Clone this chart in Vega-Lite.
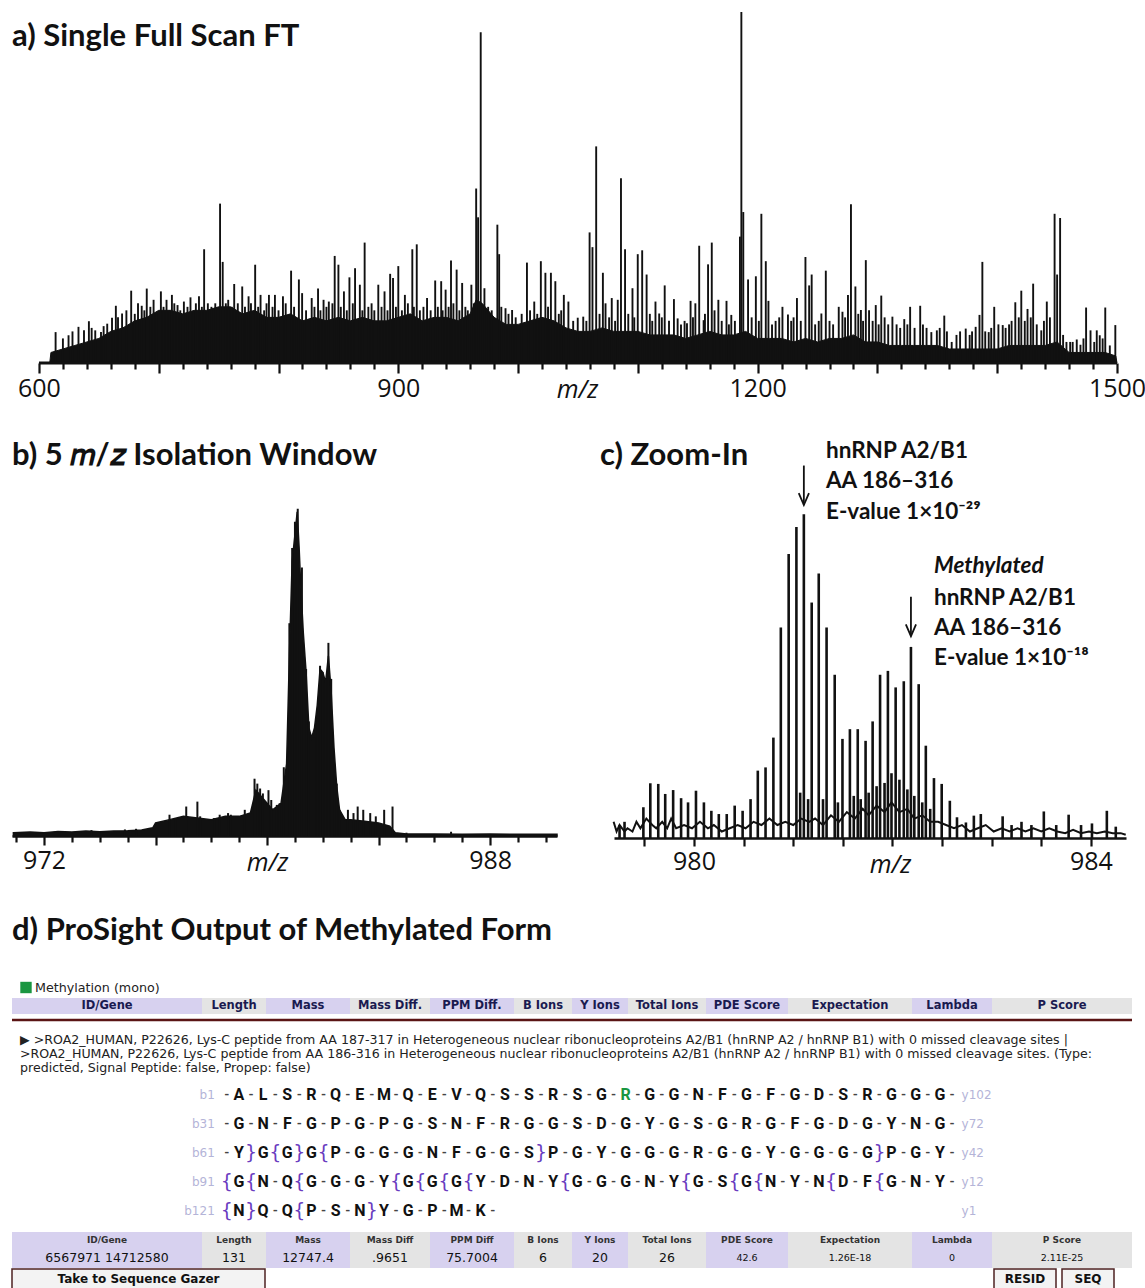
{
"$schema": "https://vega.github.io/schema/vega-lite/v6.json",
"padding": {"left": 10, "top": 0, "right": 0, "bottom": 0},
"background": "white",
"spacing": 38,
"config": {
  "view": {"stroke": null},
  "axis": {"labelFont": "Open Sans", "labelFontSize": 25, "labelColor": "#111", "domainColor": "#111", "domainWidth": 2.5, "tickColor": "#111", "tickWidth": 2.2, "grid": false, "labelPadding": 3, "labelOverlap": false, "labelFlush": false, "titleFont": "Open Sans", "titleFontStyle": "italic", "titleFontWeight": "normal", "titleFontSize": 25, "titleColor": "#111", "titleBaseline": "alphabetic", "titleY": 34},
  "title": {"font": "Lato", "fontSize": 31, "fontWeight": "bold", "color": "#111", "anchor": "start", "frame": "group"}
},
"datasets": {
  "a_axis": [{"mz": 600, "mz2": 1500, "i": 0}],
  "a_floor": [
    {"mz":605,"i":0},{"mz":609,"i":0},{"mz":610,"i":3},{"mz":620,"i":4},{"mz":630,"i":5},{"mz":640,"i":6},{"mz":650,"i":7},{"mz":660,"i":9},{"mz":670,"i":10},{"mz":680,"i":12},{"mz":690,"i":13},{"mz":700,"i":15},{"mz":710,"i":15},{"mz":720,"i":14},{"mz":730,"i":15},{"mz":740,"i":15},{"mz":750,"i":16},{"mz":760,"i":16},{"mz":770,"i":14},{"mz":780,"i":15},{"mz":790,"i":13},{"mz":800,"i":13},{"mz":810,"i":14},{"mz":820,"i":12},{"mz":830,"i":13},{"mz":840,"i":12},{"mz":850,"i":13},{"mz":860,"i":12},{"mz":870,"i":13},{"mz":880,"i":12},{"mz":890,"i":12},{"mz":900,"i":13},{"mz":910,"i":14},{"mz":920,"i":12},{"mz":930,"i":13},{"mz":940,"i":13},{"mz":950,"i":12},{"mz":960,"i":14},{"mz":965,"i":18},{"mz":970,"i":17},{"mz":980,"i":13},{"mz":990,"i":11},{"mz":1000,"i":11},{"mz":1010,"i":12},{"mz":1020,"i":13},{"mz":1030,"i":12},{"mz":1040,"i":10},{"mz":1050,"i":9},{"mz":1060,"i":9},{"mz":1070,"i":10},{"mz":1080,"i":9},{"mz":1090,"i":9},{"mz":1100,"i":9},{"mz":1110,"i":8},{"mz":1120,"i":8},{"mz":1130,"i":8},{"mz":1140,"i":7},{"mz":1150,"i":8},{"mz":1160,"i":9},{"mz":1170,"i":8},{"mz":1180,"i":8},{"mz":1190,"i":9},{"mz":1200,"i":7},{"mz":1210,"i":7},{"mz":1220,"i":7},{"mz":1230,"i":6},{"mz":1240,"i":7},{"mz":1250,"i":6},{"mz":1260,"i":7},{"mz":1270,"i":7},{"mz":1280,"i":8},{"mz":1290,"i":6},{"mz":1300,"i":6},{"mz":1310,"i":5},{"mz":1320,"i":5},{"mz":1330,"i":5},{"mz":1340,"i":5},{"mz":1350,"i":5},{"mz":1360,"i":4},{"mz":1370,"i":4},{"mz":1380,"i":4},{"mz":1390,"i":4},{"mz":1400,"i":4},{"mz":1410,"i":5},{"mz":1420,"i":5},{"mz":1430,"i":5},{"mz":1440,"i":5},{"mz":1450,"i":6},{"mz":1460,"i":3},{"mz":1470,"i":3},{"mz":1480,"i":3},{"mz":1490,"i":3},{"mz":1499,"i":2},{"mz":1500,"i":0}
  ],
  "a_peaks": [
    {"mz":613.9,"i":8.8},{"mz":620,"i":7},{"mz":624.7,"i":7.9},{"mz":628,"i":9},{"mz":633,"i":10.3},{"mz":637.6,"i":9.3},{"mz":641.7,"i":11.9},{"mz":644,"i":10},{"mz":647,"i":9.3},{"mz":651.8,"i":8.8},{"mz":654,"i":10.5},{"mz":657,"i":11.2},{"mz":661,"i":12.9},{"mz":664.2,"i":16.3},{"mz":666,"i":13},{"mz":669.4,"i":14.1},{"mz":673,"i":15},{"mz":677,"i":20.6},{"mz":680,"i":14},{"mz":682.7,"i":17},{"mz":685.8,"i":16.3},{"mz":688,"i":15},{"mz":690,"i":21.2},{"mz":693,"i":16},{"mz":695.7,"i":18},{"mz":698,"i":14},{"mz":701.8,"i":20.4},{"mz":704,"i":16},{"mz":706.5,"i":18},{"mz":709,"i":15},{"mz":711,"i":19.4},{"mz":713,"i":17},{"mz":715.7,"i":16.5},{"mz":718,"i":15},{"mz":721,"i":17.5},{"mz":724,"i":16},{"mz":726.5,"i":18.7},{"mz":729,"i":15},{"mz":731,"i":17},{"mz":733.6,"i":19},{"mz":736,"i":16},{"mz":737.9,"i":32.4},{"mz":741,"i":17},{"mz":744,"i":16},{"mz":747.2,"i":17},{"mz":751.2,"i":45.4},{"mz":753.4,"i":28.8},{"mz":756,"i":17},{"mz":758,"i":18},{"mz":761,"i":16},{"mz":763,"i":22.5},{"mz":766,"i":17},{"mz":769.7,"i":21.8},{"mz":772,"i":16},{"mz":775,"i":19},{"mz":777,"i":17},{"mz":780.5,"i":28},{"mz":783,"i":16},{"mz":785,"i":19.4},{"mz":788,"i":15},{"mz":790,"i":17},{"mz":792,"i":19.4},{"mz":795,"i":16},{"mz":797,"i":19.4},{"mz":800,"i":15},{"mz":803.7,"i":19},{"mz":806,"i":17},{"mz":810.5,"i":26.3},{"mz":813,"i":16},{"mz":817,"i":23.8},{"mz":819.7,"i":19.9},{"mz":823,"i":15},{"mz":827.7,"i":18.5},{"mz":830,"i":16},{"mz":833,"i":21.2},{"mz":835,"i":15},{"mz":837.6,"i":18},{"mz":840,"i":16},{"mz":842,"i":17.5},{"mz":845,"i":17},{"mz":846.9,"i":30.5},{"mz":850,"i":28},{"mz":852,"i":16},{"mz":854.6,"i":20.4},{"mz":857,"i":15},{"mz":859.2,"i":24.4},{"mz":862,"i":17},{"mz":863.9,"i":27},{"mz":867.9,"i":22.3},{"mz":870,"i":15},{"mz":871.9,"i":34.3},{"mz":875,"i":16},{"mz":877.7,"i":17},{"mz":880,"i":15},{"mz":883.3,"i":22.3},{"mz":886,"i":16},{"mz":888.5,"i":20.4},{"mz":891,"i":15},{"mz":893.2,"i":25.4},{"mz":895.6,"i":24.2},{"mz":898,"i":16},{"mz":900,"i":27.6},{"mz":903,"i":15},{"mz":905.5,"i":19.4},{"mz":908,"i":17},{"mz":911.7,"i":32.4},{"mz":913,"i":16},{"mz":915.4,"i":33.8},{"mz":918,"i":15},{"mz":921,"i":16},{"mz":924,"i":18.5},{"mz":927,"i":15},{"mz":930.8,"i":23.5},{"mz":933,"i":16},{"mz":935.8,"i":23.3},{"mz":937,"i":15},{"mz":939.5,"i":20.9},{"mz":942,"i":16},{"mz":944,"i":29.2},{"mz":946,"i":17},{"mz":948.7,"i":26.6},{"mz":951,"i":15},{"mz":953.3,"i":22.8},{"mz":956,"i":16},{"mz":958,"i":15},{"mz":961,"i":22.3},{"mz":963,"i":17},{"mz":965,"i":49.7},{"mz":966.6,"i":41.5},{"mz":968.8,"i":94.2},{"mz":971.9,"i":21.3},{"mz":975,"i":16},{"mz":978,"i":15},{"mz":982.7,"i":39.4},{"mz":984.2,"i":31},{"mz":986,"i":16},{"mz":989.5,"i":15.6},{"mz":992,"i":14},{"mz":995,"i":15.1},{"mz":998,"i":13},{"mz":1003,"i":14},{"mz":1007.4,"i":28.6},{"mz":1010,"i":15},{"mz":1013.5,"i":17.5},{"mz":1016,"i":14},{"mz":1019,"i":29},{"mz":1022.8,"i":25.7},{"mz":1025,"i":16},{"mz":1027.4,"i":25.7},{"mz":1031.1,"i":23.3},{"mz":1034,"i":14},{"mz":1036,"i":15},{"mz":1038.2,"i":19.4},
    {"mz":1042,"i":17.5},{"mz":1046,"i":12},{"mz":1049.8,"i":12.9},{"mz":1054.4,"i":13.2},{"mz":1057,"i":12},{"mz":1059.7,"i":37.2},{"mz":1062.1,"i":33},{"mz":1065.2,"i":61.7},{"mz":1068,"i":14},{"mz":1070.8,"i":25.7},{"mz":1073,"i":17},{"mz":1076,"i":13},{"mz":1078.2,"i":18.5},{"mz":1081,"i":12},{"mz":1083.2,"i":18},{"mz":1085.9,"i":52.6},{"mz":1089.3,"i":32.4},{"mz":1092,"i":14},{"mz":1095.5,"i":21.3},{"mz":1097,"i":13},{"mz":1099.9,"i":31},{"mz":1103.6,"i":32.1},{"mz":1107.3,"i":25.2},{"mz":1110,"i":14},{"mz":1112,"i":12},{"mz":1114.7,"i":17.5},{"mz":1117.8,"i":14.1},{"mz":1120,"i":13},{"mz":1122.4,"i":22.1},{"mz":1126,"i":12},{"mz":1130.1,"i":18.2},{"mz":1133.2,"i":12.7},{"mz":1136,"i":11},{"mz":1139,"i":12},{"mz":1141,"i":11.3},{"mz":1144,"i":17.7},{"mz":1146,"i":13},{"mz":1148,"i":17},{"mz":1151.2,"i":33.4},{"mz":1154.9,"i":12.2},{"mz":1156,"i":14},{"mz":1158.6,"i":28.1},{"mz":1161.7,"i":34.3},{"mz":1164,"i":15},{"mz":1167.2,"i":18},{"mz":1170,"i":12},{"mz":1174,"i":17.7},{"mz":1176,"i":11},{"mz":1178,"i":13.7},{"mz":1181,"i":12},{"mz":1185.2,"i":36},{"mz":1186.4,"i":100},{"mz":1188,"i":43},{"mz":1192,"i":23.8},{"mz":1195,"i":13},{"mz":1198.5,"i":24.7},{"mz":1201,"i":12},{"mz":1203.1,"i":42.5},{"mz":1206.8,"i":29},{"mz":1209,"i":17.7},{"mz":1212,"i":11},{"mz":1215,"i":12},{"mz":1218,"i":13},{"mz":1220.7,"i":16},{"mz":1225.3,"i":13.8},{"mz":1228,"i":12},{"mz":1230,"i":13},{"mz":1232.8,"i":18.5},{"mz":1236,"i":12},{"mz":1239.9,"i":30.2},{"mz":1243,"i":22.1},{"mz":1245.1,"i":25.2},{"mz":1248,"i":11},{"mz":1251,"i":12},{"mz":1253.2,"i":14.1},{"mz":1256.9,"i":26.3},{"mz":1260,"i":12},{"mz":1263,"i":11},{"mz":1267.7,"i":16},{"mz":1270.8,"i":14.6},{"mz":1273,"i":13},{"mz":1275.4,"i":19.4},{"mz":1277.9,"i":45.2},{"mz":1281.6,"i":21.8},{"mz":1284,"i":14},{"mz":1286.2,"i":15.1},{"mz":1288,"i":12},{"mz":1290.3,"i":29.3},{"mz":1293,"i":15},{"mz":1296,"i":12},{"mz":1298.6,"i":16.5},{"mz":1301,"i":11},{"mz":1303.2,"i":19.2},{"mz":1306,"i":13},{"mz":1309,"i":11},{"mz":1312.5,"i":13.2},{"mz":1316,"i":11},{"mz":1319,"i":10},{"mz":1322.4,"i":12.5},{"mz":1325,"i":11},{"mz":1327.3,"i":16},{"mz":1331,"i":10},{"mz":1335.7,"i":16.3},{"mz":1338,"i":11},{"mz":1341,"i":10},{"mz":1345,"i":8.8},{"mz":1349.6,"i":9.3},{"mz":1352,"i":10},{"mz":1355.8,"i":13.5},{"mz":1358,"i":9},{"mz":1362,"i":6},{"mz":1366,"i":8},{"mz":1369,"i":9},{"mz":1373.7,"i":9.8},{"mz":1377,"i":8},{"mz":1379,"i":9},{"mz":1382,"i":10.3},{"mz":1385.2,"i":13.7},{"mz":1387.6,"i":28.8},{"mz":1390,"i":9},{"mz":1392.9,"i":8.8},{"mz":1395,"i":10},{"mz":1397.5,"i":16},{"mz":1401,"i":11},{"mz":1404.6,"i":10.8},{"mz":1407,"i":10},{"mz":1409.9,"i":11},{"mz":1412,"i":12},{"mz":1415.1,"i":17.3},{"mz":1418,"i":13},{"mz":1420.1,"i":20.6},{"mz":1423,"i":12},{"mz":1425.3,"i":15.4},{"mz":1428,"i":13},{"mz":1430,"i":22.6},{"mz":1433,"i":11},{"mz":1436.8,"i":9.3},{"mz":1439,"i":12},{"mz":1441.4,"i":17.5},{"mz":1444,"i":13},{"mz":1447.9,"i":42.5},{"mz":1450,"i":25.2},{"mz":1452.5,"i":41.3},{"mz":1455,"i":8},{"mz":1457.8,"i":6},{"mz":1460.9,"i":6},{"mz":1463,"i":6},{"mz":1466.4,"i":6.7},{"mz":1469.5,"i":5.2},{"mz":1472,"i":7},{"mz":1474.2,"i":15.8},{"mz":1477.9,"i":9.3},{"mz":1481,"i":6},{"mz":1483.1,"i":9.3},{"mz":1485.6,"i":7.9},{"mz":1488,"i":7},{"mz":1490.2,"i":15.8},{"mz":1494,"i":5},{"mz":1498.6,"i":10.8}
  ],
  "b_floor": [
    {"mz":970.9,"i":1},{"mz":971.5,"i":1.2},{"mz":972,"i":1},{"mz":972.5,"i":1.4},{"mz":973,"i":1.2},{"mz":973.5,"i":1.5},{"mz":974,"i":1.3},{"mz":974.5,"i":1.5},{"mz":975,"i":1.6},{"mz":975.5,"i":1.8},{"mz":975.9,"i":2.5},{"mz":976,"i":4},{"mz":976.5,"i":5},{"mz":977,"i":6},{"mz":977.5,"i":5.5},{"mz":978,"i":5},{"mz":978.5,"i":6},{"mz":979,"i":6},{"mz":979.4,"i":7},{"mz":979.6,"i":14},{"mz":979.8,"i":12},{"mz":980,"i":10},{"mz":980.2,"i":8},{"mz":980.5,"i":10},{"mz":980.7,"i":22},{"mz":980.8,"i":55},{"mz":980.9,"i":84},{"mz":981.0,"i":92},{"mz":981.08,"i":99},{"mz":981.15,"i":88},{"mz":981.2,"i":78},{"mz":981.3,"i":62},{"mz":981.4,"i":50},{"mz":981.5,"i":33},{"mz":981.6,"i":30},{"mz":981.7,"i":33},{"mz":981.8,"i":40},{"mz":981.9,"i":51},{"mz":982.0,"i":50},{"mz":982.1,"i":47},{"mz":982.2,"i":55},{"mz":982.3,"i":44},{"mz":982.4,"i":27},{"mz":982.5,"i":15},{"mz":982.6,"i":8},{"mz":982.8,"i":5},{"mz":983,"i":5},{"mz":983.5,"i":4.5},{"mz":984,"i":4},{"mz":984.4,"i":3},{"mz":984.6,"i":1},{"mz":985,"i":0.6},{"mz":986,"i":0.6},{"mz":987,"i":0.5},{"mz":988,"i":0.6},{"mz":989,"i":0.5},{"mz":990.4,"i":0.5}
  ],
  "b_peaks": [
    {"mz":973.7,"i":1.8},{"mz":974.9,"i":2},{"mz":975.3,"i":2.2},{"mz":976.5,"i":6.5},{"mz":976.7,"i":5.5},{"mz":977.1,"i":9},{"mz":977.5,"i":10.5},{"mz":977.6,"i":6},{"mz":978.1,"i":5.5},{"mz":978.3,"i":6.5},{"mz":978.6,"i":7},{"mz":978.7,"i":6.5},{"mz":979.2,"i":8},{"mz":979.55,"i":17.5},{"mz":979.65,"i":16},{"mz":979.75,"i":14.5},{"mz":979.85,"i":13},{"mz":980.05,"i":14},{"mz":980.15,"i":11},{"mz":980.35,"i":9.5},{"mz":980.45,"i":10},{"mz":980.6,"i":21},{"mz":980.8,"i":65},{"mz":980.9,"i":88},{"mz":981.0,"i":96},{"mz":981.1,"i":100},{"mz":981.25,"i":82},{"mz":981.4,"i":51},{"mz":981.5,"i":35},{"mz":981.7,"i":30},{"mz":981.8,"i":36},{"mz":981.9,"i":52},{"mz":982.0,"i":50},{"mz":982.1,"i":48},{"mz":982.2,"i":59},{"mz":982.3,"i":48},{"mz":982.35,"i":28},{"mz":982.5,"i":16},{"mz":982.6,"i":8},{"mz":982.9,"i":8},{"mz":983.1,"i":7},{"mz":983.25,"i":9},{"mz":983.45,"i":8},{"mz":983.7,"i":7},{"mz":983.9,"i":6},{"mz":984.2,"i":8},{"mz":984.5,"i":9},{"mz":985,"i":1},{"mz":986.6,"i":1.3}
  ],
  "c_noise": [
    {"mz":979.19,"i":5},{"mz":979.22,"i":2},{"mz":979.25,"i":4},{"mz":979.3,"i":2},{"mz":979.33,"i":3},{"mz":979.38,"i":2},{"mz":979.42,"i":5},{"mz":979.46,"i":3},{"mz":979.52,"i":6},{"mz":979.58,"i":4},{"mz":979.62,"i":3},{"mz":979.68,"i":5},{"mz":979.73,"i":3},{"mz":979.77,"i":6},{"mz":979.82,"i":3},{"mz":979.9,"i":4},{"mz":979.98,"i":3},{"mz":980.06,"i":5},{"mz":980.14,"i":3},{"mz":980.2,"i":4},{"mz":980.28,"i":2},{"mz":980.36,"i":3},{"mz":980.44,"i":4},{"mz":980.52,"i":3},{"mz":980.6,"i":5},{"mz":980.68,"i":4},{"mz":980.76,"i":6},{"mz":980.84,"i":4},{"mz":980.92,"i":5},{"mz":981.0,"i":4},{"mz":981.08,"i":6},{"mz":981.16,"i":5},{"mz":981.22,"i":6},{"mz":981.3,"i":4},{"mz":981.38,"i":7},{"mz":981.46,"i":5},{"mz":981.54,"i":8},{"mz":981.62,"i":6},{"mz":981.7,"i":9},{"mz":981.76,"i":7},{"mz":981.84,"i":10},{"mz":981.92,"i":8},{"mz":981.99,"i":11},{"mz":982.07,"i":8},{"mz":982.15,"i":9},{"mz":982.22,"i":6},{"mz":982.3,"i":7},{"mz":982.38,"i":5},{"mz":982.46,"i":5},{"mz":982.54,"i":4},{"mz":982.62,"i":3},{"mz":982.7,"i":4},{"mz":982.78,"i":2},{"mz":982.86,"i":3},{"mz":982.94,"i":4},{"mz":983.02,"i":2},{"mz":983.1,"i":3},{"mz":983.18,"i":2},{"mz":983.26,"i":3},{"mz":983.34,"i":2},{"mz":983.42,"i":3},{"mz":983.5,"i":2},{"mz":983.58,"i":3},{"mz":983.66,"i":2},{"mz":983.74,"i":1.5},{"mz":983.82,"i":2.5},{"mz":983.9,"i":1.5},{"mz":983.98,"i":2},{"mz":984.06,"i":1.5},{"mz":984.14,"i":2},{"mz":984.22,"i":1.5},{"mz":984.3,"i":1.5},{"mz":984.35,"i":1}
  ],
  "c_peaks": [
    {"mz":979.25,"i":4},{"mz":979.3,"i":5},{"mz":979.49,"i":9.5},{"mz":979.56,"i":16.9},{"mz":979.64,"i":16.7},{"mz":979.71,"i":13.6},{"mz":979.79,"i":14.8},{"mz":979.87,"i":12.3},{"mz":979.94,"i":11},{"mz":980.02,"i":14.6},{"mz":980.1,"i":11},{"mz":980.175,"i":8.4},{"mz":980.25,"i":7.4},{"mz":980.33,"i":7.4},{"mz":980.41,"i":10},{"mz":980.49,"i":8.4},{"mz":980.57,"i":12},{"mz":980.643,"i":20.8},{"mz":980.721,"i":21.8},{"mz":980.8,"i":31},{"mz":980.875,"i":65},{"mz":980.954,"i":87.7},{"mz":981.032,"i":96},{"mz":981.07,"i":14},{"mz":981.107,"i":100},{"mz":981.15,"i":12},{"mz":981.186,"i":72.7},{"mz":981.257,"i":81.7},{"mz":981.3,"i":12},{"mz":981.336,"i":65},{"mz":981.418,"i":50.4},{"mz":981.45,"i":11},{"mz":981.496,"i":30.6},{"mz":981.571,"i":33.6},{"mz":981.61,"i":13},{"mz":981.65,"i":33.6},{"mz":981.68,"i":12},{"mz":981.729,"i":30},{"mz":981.76,"i":14},{"mz":981.8,"i":36},{"mz":981.84,"i":16},{"mz":981.875,"i":50.4},{"mz":981.92,"i":17},{"mz":981.954,"i":51.6},{"mz":981.99,"i":20},{"mz":982.032,"i":46.5},{"mz":982.07,"i":18},{"mz":982.114,"i":48.4},{"mz":982.15,"i":15},{"mz":982.186,"i":59},{"mz":982.22,"i":13},{"mz":982.264,"i":47.5},{"mz":982.3,"i":11},{"mz":982.336,"i":28.5},{"mz":982.38,"i":9},{"mz":982.418,"i":18.5},{"mz":982.496,"i":16.7},{"mz":982.578,"i":11.5},{"mz":982.65,"i":6.4},{"mz":982.74,"i":4.8},{"mz":982.82,"i":6.9},{"mz":982.89,"i":7.4},{"mz":983.11,"i":6.7},{"mz":983.2,"i":4},{"mz":983.3,"i":5},{"mz":983.4,"i":4},{"mz":983.525,"i":8.2},{"mz":983.65,"i":4},{"mz":983.775,"i":7.2},{"mz":983.9,"i":4},{"mz":984.01,"i":4.5},{"mz":984.16,"i":8.4},{"mz":984.25,"i":3.5}
  ],
  "c_arrows": [{"mz":981.107,"i":115,"i2":102.8},{"mz":982.186,"i":74.5,"i2":62.3}],
  "c_notes": [
    {"mz":981.33,"i":119.4,"t":"hnRNP A2/B1","it":0},
    {"mz":981.33,"i":110.2,"t":"AA 186–316","it":0},
    {"mz":981.33,"i":100.6,"t":"E-value 1×10⁻²⁹","it":0},
    {"mz":982.418,"i":84.0,"t":"Methylated","it":1},
    {"mz":982.418,"i":74.1,"t":"hnRNP A2/B1","it":0},
    {"mz":982.418,"i":64.8,"t":"AA 186–316","it":0},
    {"mz":982.418,"i":55.6,"t":"E-value 1×10⁻¹⁸","it":0}
  ],
  "legend": [{"m":"Methylation (mono)"}],
  "hdr": [{"c":"ID/Gene"},{"c":"Length"},{"c":"Mass"},{"c":"Mass Diff."},{"c":"PPM Diff."},{"c":"B Ions"},{"c":"Y Ions"},{"c":"Total Ions"},{"c":"PDE Score"},{"c":"Expectation"},{"c":"Lambda"},{"c":"P Score"}],
  "desc": [
    {"n":1,"t":"▶  >ROA2_HUMAN, P22626, Lys-C peptide from AA 187-317 in Heterogeneous nuclear ribonucleoproteins A2/B1 (hnRNP A2 / hnRNP B1) with 0 missed cleavage sites |"},
    {"n":2,"t":">ROA2_HUMAN, P22626, Lys-C peptide from AA 186-316 in Heterogeneous nuclear ribonucleoproteins A2/B1 (hnRNP A2 / hnRNP B1) with 0 missed cleavage sites. (Type:"},
    {"n":3,"t":"predicted, Signal Peptide: false, Propep: false)"}
  ],
  "seqlab": [
    {"r":1,"b":"b1","y":"y102","l":"-"},{"r":2,"b":"b31","y":"y72","l":"-"},{"r":3,"b":"b61","y":"y42","l":"-"},{"r":4,"b":"b91","y":"y12","l":"{"},{"r":5,"b":"b121","y":"y1","l":"{"}
  ],
  "seq": [
    {"r":1,"p":1,"a":"A","s":"-"},{"r":1,"p":2,"a":"L","s":"-"},{"r":1,"p":3,"a":"S","s":"-"},{"r":1,"p":4,"a":"R","s":"-"},{"r":1,"p":5,"a":"Q","s":"-"},{"r":1,"p":6,"a":"E","s":"-"},{"r":1,"p":7,"a":"M","s":"-"},{"r":1,"p":8,"a":"Q","s":"-"},{"r":1,"p":9,"a":"E","s":"-"},{"r":1,"p":10,"a":"V","s":"-"},{"r":1,"p":11,"a":"Q","s":"-"},{"r":1,"p":12,"a":"S","s":"-"},{"r":1,"p":13,"a":"S","s":"-"},{"r":1,"p":14,"a":"R","s":"-"},{"r":1,"p":15,"a":"S","s":"-"},{"r":1,"p":16,"a":"G","s":"-"},{"r":1,"p":17,"a":"R","s":"-","m":1},{"r":1,"p":18,"a":"G","s":"-"},{"r":1,"p":19,"a":"G","s":"-"},{"r":1,"p":20,"a":"N","s":"-"},{"r":1,"p":21,"a":"F","s":"-"},{"r":1,"p":22,"a":"G","s":"-"},{"r":1,"p":23,"a":"F","s":"-"},{"r":1,"p":24,"a":"G","s":"-"},{"r":1,"p":25,"a":"D","s":"-"},{"r":1,"p":26,"a":"S","s":"-"},{"r":1,"p":27,"a":"R","s":"-"},{"r":1,"p":28,"a":"G","s":"-"},{"r":1,"p":29,"a":"G","s":"-"},{"r":1,"p":30,"a":"G","s":"-"},
    {"r":2,"p":1,"a":"G","s":"-"},{"r":2,"p":2,"a":"N","s":"-"},{"r":2,"p":3,"a":"F","s":"-"},{"r":2,"p":4,"a":"G","s":"-"},{"r":2,"p":5,"a":"P","s":"-"},{"r":2,"p":6,"a":"G","s":"-"},{"r":2,"p":7,"a":"P","s":"-"},{"r":2,"p":8,"a":"G","s":"-"},{"r":2,"p":9,"a":"S","s":"-"},{"r":2,"p":10,"a":"N","s":"-"},{"r":2,"p":11,"a":"F","s":"-"},{"r":2,"p":12,"a":"R","s":"-"},{"r":2,"p":13,"a":"G","s":"-"},{"r":2,"p":14,"a":"G","s":"-"},{"r":2,"p":15,"a":"S","s":"-"},{"r":2,"p":16,"a":"D","s":"-"},{"r":2,"p":17,"a":"G","s":"-"},{"r":2,"p":18,"a":"Y","s":"-"},{"r":2,"p":19,"a":"G","s":"-"},{"r":2,"p":20,"a":"S","s":"-"},{"r":2,"p":21,"a":"G","s":"-"},{"r":2,"p":22,"a":"R","s":"-"},{"r":2,"p":23,"a":"G","s":"-"},{"r":2,"p":24,"a":"F","s":"-"},{"r":2,"p":25,"a":"G","s":"-"},{"r":2,"p":26,"a":"D","s":"-"},{"r":2,"p":27,"a":"G","s":"-"},{"r":2,"p":28,"a":"Y","s":"-"},{"r":2,"p":29,"a":"N","s":"-"},{"r":2,"p":30,"a":"G","s":"-"},
    {"r":3,"p":1,"a":"Y","s":"}"},{"r":3,"p":2,"a":"G","s":"{"},{"r":3,"p":3,"a":"G","s":"}"},{"r":3,"p":4,"a":"G","s":"{"},{"r":3,"p":5,"a":"P","s":"-"},{"r":3,"p":6,"a":"G","s":"-"},{"r":3,"p":7,"a":"G","s":"-"},{"r":3,"p":8,"a":"G","s":"-"},{"r":3,"p":9,"a":"N","s":"-"},{"r":3,"p":10,"a":"F","s":"-"},{"r":3,"p":11,"a":"G","s":"-"},{"r":3,"p":12,"a":"G","s":"-"},{"r":3,"p":13,"a":"S","s":"}"},{"r":3,"p":14,"a":"P","s":"-"},{"r":3,"p":15,"a":"G","s":"-"},{"r":3,"p":16,"a":"Y","s":"-"},{"r":3,"p":17,"a":"G","s":"-"},{"r":3,"p":18,"a":"G","s":"-"},{"r":3,"p":19,"a":"G","s":"-"},{"r":3,"p":20,"a":"R","s":"-"},{"r":3,"p":21,"a":"G","s":"-"},{"r":3,"p":22,"a":"G","s":"-"},{"r":3,"p":23,"a":"Y","s":"-"},{"r":3,"p":24,"a":"G","s":"-"},{"r":3,"p":25,"a":"G","s":"-"},{"r":3,"p":26,"a":"G","s":"-"},{"r":3,"p":27,"a":"G","s":"}"},{"r":3,"p":28,"a":"P","s":"-"},{"r":3,"p":29,"a":"G","s":"-"},{"r":3,"p":30,"a":"Y","s":"-"},
    {"r":4,"p":1,"a":"G","s":"{"},{"r":4,"p":2,"a":"N","s":"-"},{"r":4,"p":3,"a":"Q","s":"{"},{"r":4,"p":4,"a":"G","s":"-"},{"r":4,"p":5,"a":"G","s":"-"},{"r":4,"p":6,"a":"G","s":"-"},{"r":4,"p":7,"a":"Y","s":"{"},{"r":4,"p":8,"a":"G","s":"{"},{"r":4,"p":9,"a":"G","s":"{"},{"r":4,"p":10,"a":"G","s":"{"},{"r":4,"p":11,"a":"Y","s":"-"},{"r":4,"p":12,"a":"D","s":"-"},{"r":4,"p":13,"a":"N","s":"-"},{"r":4,"p":14,"a":"Y","s":"{"},{"r":4,"p":15,"a":"G","s":"-"},{"r":4,"p":16,"a":"G","s":"-"},{"r":4,"p":17,"a":"G","s":"-"},{"r":4,"p":18,"a":"N","s":"-"},{"r":4,"p":19,"a":"Y","s":"{"},{"r":4,"p":20,"a":"G","s":"-"},{"r":4,"p":21,"a":"S","s":"{"},{"r":4,"p":22,"a":"G","s":"{"},{"r":4,"p":23,"a":"N","s":"-"},{"r":4,"p":24,"a":"Y","s":"-"},{"r":4,"p":25,"a":"N","s":"{"},{"r":4,"p":26,"a":"D","s":"-"},{"r":4,"p":27,"a":"F","s":"{"},{"r":4,"p":28,"a":"G","s":"-"},{"r":4,"p":29,"a":"N","s":"-"},{"r":4,"p":30,"a":"Y","s":"-"},
    {"r":5,"p":1,"a":"N","s":"}"},{"r":5,"p":2,"a":"Q","s":"-"},{"r":5,"p":3,"a":"Q","s":"{"},{"r":5,"p":4,"a":"P","s":"-"},{"r":5,"p":5,"a":"S","s":"-"},{"r":5,"p":6,"a":"N","s":"}"},{"r":5,"p":7,"a":"Y","s":"-"},{"r":5,"p":8,"a":"G","s":"-"},{"r":5,"p":9,"a":"P","s":"-"},{"r":5,"p":10,"a":"M","s":"-"},{"r":5,"p":11,"a":"K","s":"-"}
  ],
  "tbl": [
    {"c":"ID/Gene","r":"h","t":"ID/Gene"},{"c":"ID/Gene","r":"v","t":"6567971      14712580"},
    {"c":"Length","r":"h","t":"Length"},{"c":"Length","r":"v","t":"131"},
    {"c":"Mass","r":"h","t":"Mass"},{"c":"Mass","r":"v","t":"12747.4"},
    {"c":"Mass Diff","r":"h","t":"Mass Diff"},{"c":"Mass Diff","r":"v","t":".9651"},
    {"c":"PPM Diff","r":"h","t":"PPM Diff"},{"c":"PPM Diff","r":"v","t":"75.7004"},
    {"c":"B Ions","r":"h","t":"B Ions"},{"c":"B Ions","r":"v","t":"6"},
    {"c":"Y Ions","r":"h","t":"Y Ions"},{"c":"Y Ions","r":"v","t":"20"},
    {"c":"Total Ions","r":"h","t":"Total Ions"},{"c":"Total Ions","r":"v","t":"26"},
    {"c":"PDE Score","r":"h","t":"PDE Score"},{"c":"PDE Score","r":"v","t":"42.6"},
    {"c":"Expectation","r":"h","t":"Expectation"},{"c":"Expectation","r":"v","t":"1.26E-18"},
    {"c":"Lambda","r":"h","t":"Lambda"},{"c":"Lambda","r":"v","t":"0"},
    {"c":"P Score","r":"h","t":"P Score"},{"c":"P Score","r":"v","t":"2.11E-25"}
  ],
  "btn": [{"b":"Take to Sequence Gazer"},{"b":"RESID"},{"b":"SEQ"}]
},
"vconcat": [
  {
    "width": 1105, "height": 363,
    "title": {"text": "a) Single Full Scan FT", "offset": -77, "baseline": "alphabetic"},
    "encoding": {
      "x": {"field": "mz", "type": "quantitative", "scale": {"domain": [577.5, 1500], "nice": false, "zero": false},
        "axis": {"values": [600,620,640,660,680,700,720,740,760,780,800,820,840,860,880,900,920,940,960,980,1000,1020,1040,1060,1080,1100,1120,1140,1160,1180,1200,1220,1240,1260,1280,1300,1320,1340,1360,1380,1400,1420,1440,1460,1480,1500], "format": "d", "labelExpr": "datum.value % 300 === 0 ? datum.label : ''", "domain": false, "tickSize": {"condition": {"test": "datum.value % 100 === 0", "value": 10}, "value": 6}, "title": "m/z", "titleX": 565}},
      "y": {"field": "i", "type": "quantitative", "scale": {"domain": [0, 103.4], "nice": false}, "axis": null}
    },
    "layer": [
      {"data": {"name": "a_floor"}, "mark": {"type": "area", "color": "#111", "stroke": "#111", "strokeWidth": 1}},
      {"data": {"name": "a_peaks"}, "mark": {"type": "rule", "color": "#111", "strokeWidth": 1.9}, "encoding": {"y2": {"datum": 0}}},
      {"data": {"name": "a_axis"}, "mark": {"type": "rule", "color": "#111", "strokeWidth": 3}, "encoding": {"x2": {"field": "mz2"}}}
    ]
  },
  {
    "hconcat": [
      {
        "width": 545, "height": 329,
        "title": {"text": "b) 5 𝑚/𝑧 Isolation Window", "offset": 11, "baseline": "alphabetic"},
        "encoding": {
          "x": {"field": "mz", "type": "quantitative", "scale": {"domain": [970.85, 990.4], "nice": false, "zero": false},
            "axis": {"values": [971,972,973,974,975,976,977,978,979,980,981,982,983,984,985,986,987,988,989,990], "format": "d", "labelExpr": "(datum.value === 972 || datum.value === 988) ? datum.label : ''", "tickSize": {"condition": {"test": "datum.value % 4 === 0", "value": 9}, "value": 6}, "title": "m/z", "titleX": 255}},
          "y": {"field": "i", "type": "quantitative", "scale": {"domain": [0, 100.5], "nice": false}, "axis": null}
        },
        "layer": [
          {"data": {"name": "b_floor"}, "mark": {"type": "area", "color": "#111", "stroke": "#111", "strokeWidth": 1.5}},
          {"data": {"name": "b_peaks"}, "mark": {"type": "rule", "color": "#111", "strokeWidth": 2}, "encoding": {"y2": {"datum": 0}}}
        ]
      },
      {
        "width": 512, "height": 331,
        "title": {"text": "c) Zoom-In", "offset": -56, "baseline": "alphabetic", "dx": -14},
        "encoding": {
          "x": {"field": "mz", "type": "quantitative", "scale": {"domain": [979.194, 984.353], "nice": false, "zero": false},
            "axis": {"values": [979.5,980,980.5,981,981.5,982,982.5,983,983.5,984], "labelExpr": "abs(datum.value - 980) < 0.01 ? '980' : (abs(datum.value - 984) < 0.01 ? '984' : '')", "tickSize": 8, "title": "m/z", "titleX": 276}},
          "y": {"field": "i", "type": "quantitative", "scale": {"domain": [0, 102.2], "nice": false}, "axis": null}
        },
        "layer": [
          {"data": {"name": "c_noise"}, "mark": {"type": "line", "color": "#111", "strokeWidth": 2}},
          {"data": {"name": "c_peaks"}, "mark": {"type": "rule", "color": "#111", "strokeWidth": 2.6}, "encoding": {"y2": {"datum": 0}}},
          {"data": {"name": "c_arrows"}, "mark": {"type": "rule", "color": "#111", "strokeWidth": 1.8}, "encoding": {"y2": {"field": "i2"}}},
          {"data": {"name": "c_arrows"}, "mark": {"type": "point", "shape": "M-0.6,-1.4L0,0L0.6,-1.4", "filled": false, "size": 290, "color": "#111", "strokeWidth": 1.8, "opacity": 1}, "encoding": {"y": {"field": "i2", "type": "quantitative"}}},
          {"data": {"name": "c_notes"}, "transform": [{"filter": "datum.it === 0"}], "mark": {"type": "text", "align": "left", "baseline": "middle", "font": "Lato", "fontWeight": "bold", "fontSize": 22.5, "color": "#111"}, "encoding": {"text": {"field": "t"}}},
          {"data": {"name": "c_notes"}, "transform": [{"filter": "datum.it === 1"}], "mark": {"type": "text", "align": "left", "baseline": "middle", "font": "Lato", "fontWeight": "bold", "fontStyle": "italic", "fontSize": 22.5, "color": "#111"}, "encoding": {"text": {"field": "t"}}}
        ]
      }
    ],
    "spacing": 57,
    "bounds": "flush"
  },
  {
    "spacing": 0,
    "vconcat": [
      {
        "width": 1120, "height": 17,
        "title": {"text": "d) ProSight Output of Methylated Form", "offset": 10, "baseline": "alphabetic"},
        "data": {"name": "legend"},
        "encoding": {"x": {"datum": 0, "type": "quantitative", "scale": {"domain": [0, 1]}, "axis": null}},
        "layer": [
          {"mark": {"type": "point", "shape": "square", "filled": true, "size": 130, "color": "#1a9641", "xOffset": 14, "yOffset": -2, "opacity": 1}},
          {"mark": {"type": "text", "align": "left", "dx": 23, "dy": -2, "font": "DejaVu Sans", "fontSize": 12.7, "color": "#222"}, "encoding": {"text": {"field": "m"}}}
        ]
      },
      {
        "spacing": 0,
        "hconcat": [
          {"width": 190, "height": 16, "view": {"fill": "#d7d1ef", "stroke": null}, "data": {"name": "hdr"}, "transform": [{"filter": "datum.c === 'ID/Gene'"}], "mark": {"type": "text", "font": "DejaVu Sans", "fontSize": 11.5, "fontWeight": "bold", "color": "#1a1a50"}, "encoding": {"text": {"field": "c"}}},
          {"width": 64, "height": 16, "view": {"fill": "#e4e4e4", "stroke": null}, "data": {"name": "hdr"}, "transform": [{"filter": "datum.c === 'Length'"}], "mark": {"type": "text", "font": "DejaVu Sans", "fontSize": 11.5, "fontWeight": "bold", "color": "#1a1a50"}, "encoding": {"text": {"field": "c"}}},
          {"width": 84, "height": 16, "view": {"fill": "#d7d1ef", "stroke": null}, "data": {"name": "hdr"}, "transform": [{"filter": "datum.c === 'Mass'"}], "mark": {"type": "text", "font": "DejaVu Sans", "fontSize": 11.5, "fontWeight": "bold", "color": "#1a1a50"}, "encoding": {"text": {"field": "c"}}},
          {"width": 80, "height": 16, "view": {"fill": "#e4e4e4", "stroke": null}, "data": {"name": "hdr"}, "transform": [{"filter": "datum.c === 'Mass Diff.'"}], "mark": {"type": "text", "font": "DejaVu Sans", "fontSize": 11.5, "fontWeight": "bold", "color": "#1a1a50"}, "encoding": {"text": {"field": "c"}}},
          {"width": 84, "height": 16, "view": {"fill": "#d7d1ef", "stroke": null}, "data": {"name": "hdr"}, "transform": [{"filter": "datum.c === 'PPM Diff.'"}], "mark": {"type": "text", "font": "DejaVu Sans", "fontSize": 11.5, "fontWeight": "bold", "color": "#1a1a50"}, "encoding": {"text": {"field": "c"}}},
          {"width": 58, "height": 16, "view": {"fill": "#e4e4e4", "stroke": null}, "data": {"name": "hdr"}, "transform": [{"filter": "datum.c === 'B Ions'"}], "mark": {"type": "text", "font": "DejaVu Sans", "fontSize": 11.5, "fontWeight": "bold", "color": "#1a1a50"}, "encoding": {"text": {"field": "c"}}},
          {"width": 56, "height": 16, "view": {"fill": "#d7d1ef", "stroke": null}, "data": {"name": "hdr"}, "transform": [{"filter": "datum.c === 'Y Ions'"}], "mark": {"type": "text", "font": "DejaVu Sans", "fontSize": 11.5, "fontWeight": "bold", "color": "#1a1a50"}, "encoding": {"text": {"field": "c"}}},
          {"width": 78, "height": 16, "view": {"fill": "#e4e4e4", "stroke": null}, "data": {"name": "hdr"}, "transform": [{"filter": "datum.c === 'Total Ions'"}], "mark": {"type": "text", "font": "DejaVu Sans", "fontSize": 11.5, "fontWeight": "bold", "color": "#1a1a50"}, "encoding": {"text": {"field": "c"}}},
          {"width": 82, "height": 16, "view": {"fill": "#d7d1ef", "stroke": null}, "data": {"name": "hdr"}, "transform": [{"filter": "datum.c === 'PDE Score'"}], "mark": {"type": "text", "font": "DejaVu Sans", "fontSize": 11.5, "fontWeight": "bold", "color": "#1a1a50"}, "encoding": {"text": {"field": "c"}}},
          {"width": 124, "height": 16, "view": {"fill": "#e4e4e4", "stroke": null}, "data": {"name": "hdr"}, "transform": [{"filter": "datum.c === 'Expectation'"}], "mark": {"type": "text", "font": "DejaVu Sans", "fontSize": 11.5, "fontWeight": "bold", "color": "#1a1a50"}, "encoding": {"text": {"field": "c"}}},
          {"width": 80, "height": 16, "view": {"fill": "#d7d1ef", "stroke": null}, "data": {"name": "hdr"}, "transform": [{"filter": "datum.c === 'Lambda'"}], "mark": {"type": "text", "font": "DejaVu Sans", "fontSize": 11.5, "fontWeight": "bold", "color": "#1a1a50"}, "encoding": {"text": {"field": "c"}}},
          {"width": 140, "height": 16, "view": {"fill": "#e4e4e4", "stroke": null}, "data": {"name": "hdr"}, "transform": [{"filter": "datum.c === 'P Score'"}], "mark": {"type": "text", "font": "DejaVu Sans", "fontSize": 11.5, "fontWeight": "bold", "color": "#1a1a50"}, "encoding": {"text": {"field": "c"}}}
        ]
      },
      {
        "width": 1120, "height": 9,
        "data": {"values": [{"k": 1}]},
        "mark": {"type": "rule", "color": "#5a1414", "strokeWidth": 2.5},
        "encoding": {"y": {"datum": 0.33, "type": "quantitative", "scale": {"domain": [0, 1]}, "axis": null}}
      },
      {
        "width": 1120, "height": 52,
        "data": {"name": "desc"},
        "mark": {"type": "text", "align": "left", "dx": 8, "font": "DejaVu Sans", "fontSize": 12.6, "color": "#222"},
        "encoding": {
          "x": {"datum": 0, "type": "quantitative", "scale": {"domain": [0, 1]}, "axis": null},
          "y": {"field": "n", "type": "ordinal", "axis": null, "scale": {"type": "point", "domain": [1, 2, 3], "padding": 0.857, "align": 0.708}},
          "text": {"field": "t"}
        }
      },
      {
        "width": 1120, "height": 157,
        "encoding": {
          "y": {"field": "r", "type": "ordinal", "axis": null, "scale": {"type": "point", "domain": [1, 2, 3, 4, 5], "padding": 0.707, "align": 0.488}}
        },
        "layer": [
          {"data": {"name": "seq"}, "mark": {"type": "text", "font": "Roboto", "fontWeight": "bold", "fontSize": 16}, "encoding": {"x": {"field": "p", "type": "quantitative", "scale": {"domain": [-8.39, 37.95], "nice": false, "zero": false}, "axis": null}, "text": {"field": "a"}, "color": {"condition": {"test": "datum.m === 1", "value": "#1a9641"}, "value": "#111"}}},
          {"data": {"name": "seq"}, "transform": [{"filter": "datum.s === '-'"}], "mark": {"type": "text", "font": "Roboto", "fontWeight": "bold", "fontSize": 13, "color": "#444", "xOffset": 12.09}, "encoding": {"x": {"field": "p", "type": "quantitative"}, "text": {"field": "s"}}},
          {"data": {"name": "seq"}, "transform": [{"filter": "datum.s !== '-'"}], "mark": {"type": "text", "font": "DejaVu Sans", "fontSize": 19, "color": "#6a3cc0", "xOffset": 12.09}, "encoding": {"x": {"field": "p", "type": "quantitative"}, "text": {"field": "s"}}},
          {"data": {"name": "seqlab"}, "transform": [{"filter": "datum.l === '-'"}], "mark": {"type": "text", "font": "Roboto", "fontWeight": "bold", "fontSize": 13, "color": "#444"}, "encoding": {"x": {"datum": 0.5, "type": "quantitative"}, "text": {"field": "l"}}},
          {"data": {"name": "seqlab"}, "transform": [{"filter": "datum.l !== '-'"}], "mark": {"type": "text", "font": "DejaVu Sans", "fontSize": 19, "color": "#6a3cc0"}, "encoding": {"x": {"datum": 0.5, "type": "quantitative"}, "text": {"field": "l"}}},
          {"data": {"name": "seqlab"}, "mark": {"type": "text", "align": "right", "font": "DejaVu Sans", "fontSize": 12, "color": "#b4b4d8"}, "encoding": {"x": {"datum": 0, "type": "quantitative"}, "text": {"field": "b"}}},
          {"data": {"name": "seqlab"}, "mark": {"type": "text", "align": "left", "font": "DejaVu Sans", "fontSize": 12, "color": "#b4b4d8"}, "encoding": {"x": {"datum": 30.9, "type": "quantitative"}, "text": {"field": "y"}}}
        ]
      },
      {
        "spacing": 0,
        "hconcat": [
          {"width": 190, "height": 36, "view": {"fill": "#d7d1ef", "stroke": null}, "data": {"name": "tbl"}, "transform": [{"filter": "datum.c === 'ID/Gene'"}], "encoding": {"y": {"field": "r", "type": "nominal", "axis": null, "scale": {"type": "point", "domain": ["h", "v"], "padding": 0.5, "align": 0.444}}, "text": {"field": "t"}}, "layer": [{"transform": [{"filter": "datum.r === 'h'"}], "mark": {"type": "text", "font": "DejaVu Sans", "fontSize": 9, "fontWeight": "bold", "color": "#333"}}, {"transform": [{"filter": "datum.r === 'v'"}], "mark": {"type": "text", "font": "DejaVu Sans", "fontSize": 12.5, "color": "#111"}}]},
          {"width": 64, "height": 36, "view": {"fill": "#e4e4e4", "stroke": null}, "data": {"name": "tbl"}, "transform": [{"filter": "datum.c === 'Length'"}], "encoding": {"y": {"field": "r", "type": "nominal", "axis": null, "scale": {"type": "point", "domain": ["h", "v"], "padding": 0.5, "align": 0.444}}, "text": {"field": "t"}}, "layer": [{"transform": [{"filter": "datum.r === 'h'"}], "mark": {"type": "text", "font": "DejaVu Sans", "fontSize": 9, "fontWeight": "bold", "color": "#333"}}, {"transform": [{"filter": "datum.r === 'v'"}], "mark": {"type": "text", "font": "DejaVu Sans", "fontSize": 12.5, "color": "#111"}}]},
          {"width": 84, "height": 36, "view": {"fill": "#d7d1ef", "stroke": null}, "data": {"name": "tbl"}, "transform": [{"filter": "datum.c === 'Mass'"}], "encoding": {"y": {"field": "r", "type": "nominal", "axis": null, "scale": {"type": "point", "domain": ["h", "v"], "padding": 0.5, "align": 0.444}}, "text": {"field": "t"}}, "layer": [{"transform": [{"filter": "datum.r === 'h'"}], "mark": {"type": "text", "font": "DejaVu Sans", "fontSize": 9, "fontWeight": "bold", "color": "#333"}}, {"transform": [{"filter": "datum.r === 'v'"}], "mark": {"type": "text", "font": "DejaVu Sans", "fontSize": 12.5, "color": "#111"}}]},
          {"width": 80, "height": 36, "view": {"fill": "#e4e4e4", "stroke": null}, "data": {"name": "tbl"}, "transform": [{"filter": "datum.c === 'Mass Diff'"}], "encoding": {"y": {"field": "r", "type": "nominal", "axis": null, "scale": {"type": "point", "domain": ["h", "v"], "padding": 0.5, "align": 0.444}}, "text": {"field": "t"}}, "layer": [{"transform": [{"filter": "datum.r === 'h'"}], "mark": {"type": "text", "font": "DejaVu Sans", "fontSize": 9, "fontWeight": "bold", "color": "#333"}}, {"transform": [{"filter": "datum.r === 'v'"}], "mark": {"type": "text", "font": "DejaVu Sans", "fontSize": 12.5, "color": "#111"}}]},
          {"width": 84, "height": 36, "view": {"fill": "#d7d1ef", "stroke": null}, "data": {"name": "tbl"}, "transform": [{"filter": "datum.c === 'PPM Diff'"}], "encoding": {"y": {"field": "r", "type": "nominal", "axis": null, "scale": {"type": "point", "domain": ["h", "v"], "padding": 0.5, "align": 0.444}}, "text": {"field": "t"}}, "layer": [{"transform": [{"filter": "datum.r === 'h'"}], "mark": {"type": "text", "font": "DejaVu Sans", "fontSize": 9, "fontWeight": "bold", "color": "#333"}}, {"transform": [{"filter": "datum.r === 'v'"}], "mark": {"type": "text", "font": "DejaVu Sans", "fontSize": 12.5, "color": "#111"}}]},
          {"width": 58, "height": 36, "view": {"fill": "#e4e4e4", "stroke": null}, "data": {"name": "tbl"}, "transform": [{"filter": "datum.c === 'B Ions'"}], "encoding": {"y": {"field": "r", "type": "nominal", "axis": null, "scale": {"type": "point", "domain": ["h", "v"], "padding": 0.5, "align": 0.444}}, "text": {"field": "t"}}, "layer": [{"transform": [{"filter": "datum.r === 'h'"}], "mark": {"type": "text", "font": "DejaVu Sans", "fontSize": 9, "fontWeight": "bold", "color": "#333"}}, {"transform": [{"filter": "datum.r === 'v'"}], "mark": {"type": "text", "font": "DejaVu Sans", "fontSize": 12.5, "color": "#111"}}]},
          {"width": 56, "height": 36, "view": {"fill": "#d7d1ef", "stroke": null}, "data": {"name": "tbl"}, "transform": [{"filter": "datum.c === 'Y Ions'"}], "encoding": {"y": {"field": "r", "type": "nominal", "axis": null, "scale": {"type": "point", "domain": ["h", "v"], "padding": 0.5, "align": 0.444}}, "text": {"field": "t"}}, "layer": [{"transform": [{"filter": "datum.r === 'h'"}], "mark": {"type": "text", "font": "DejaVu Sans", "fontSize": 9, "fontWeight": "bold", "color": "#333"}}, {"transform": [{"filter": "datum.r === 'v'"}], "mark": {"type": "text", "font": "DejaVu Sans", "fontSize": 12.5, "color": "#111"}}]},
          {"width": 78, "height": 36, "view": {"fill": "#e4e4e4", "stroke": null}, "data": {"name": "tbl"}, "transform": [{"filter": "datum.c === 'Total Ions'"}], "encoding": {"y": {"field": "r", "type": "nominal", "axis": null, "scale": {"type": "point", "domain": ["h", "v"], "padding": 0.5, "align": 0.444}}, "text": {"field": "t"}}, "layer": [{"transform": [{"filter": "datum.r === 'h'"}], "mark": {"type": "text", "font": "DejaVu Sans", "fontSize": 9, "fontWeight": "bold", "color": "#333"}}, {"transform": [{"filter": "datum.r === 'v'"}], "mark": {"type": "text", "font": "DejaVu Sans", "fontSize": 12.5, "color": "#111"}}]},
          {"width": 82, "height": 36, "view": {"fill": "#d7d1ef", "stroke": null}, "data": {"name": "tbl"}, "transform": [{"filter": "datum.c === 'PDE Score'"}], "encoding": {"y": {"field": "r", "type": "nominal", "axis": null, "scale": {"type": "point", "domain": ["h", "v"], "padding": 0.5, "align": 0.444}}, "text": {"field": "t"}}, "layer": [{"transform": [{"filter": "datum.r === 'h'"}], "mark": {"type": "text", "font": "DejaVu Sans", "fontSize": 9, "fontWeight": "bold", "color": "#333"}}, {"transform": [{"filter": "datum.r === 'v'"}], "mark": {"type": "text", "font": "DejaVu Sans", "fontSize": 9.5, "color": "#111"}}]},
          {"width": 124, "height": 36, "view": {"fill": "#e4e4e4", "stroke": null}, "data": {"name": "tbl"}, "transform": [{"filter": "datum.c === 'Expectation'"}], "encoding": {"y": {"field": "r", "type": "nominal", "axis": null, "scale": {"type": "point", "domain": ["h", "v"], "padding": 0.5, "align": 0.444}}, "text": {"field": "t"}}, "layer": [{"transform": [{"filter": "datum.r === 'h'"}], "mark": {"type": "text", "font": "DejaVu Sans", "fontSize": 9, "fontWeight": "bold", "color": "#333"}}, {"transform": [{"filter": "datum.r === 'v'"}], "mark": {"type": "text", "font": "DejaVu Sans", "fontSize": 9.5, "color": "#111"}}]},
          {"width": 80, "height": 36, "view": {"fill": "#d7d1ef", "stroke": null}, "data": {"name": "tbl"}, "transform": [{"filter": "datum.c === 'Lambda'"}], "encoding": {"y": {"field": "r", "type": "nominal", "axis": null, "scale": {"type": "point", "domain": ["h", "v"], "padding": 0.5, "align": 0.444}}, "text": {"field": "t"}}, "layer": [{"transform": [{"filter": "datum.r === 'h'"}], "mark": {"type": "text", "font": "DejaVu Sans", "fontSize": 9, "fontWeight": "bold", "color": "#333"}}, {"transform": [{"filter": "datum.r === 'v'"}], "mark": {"type": "text", "font": "DejaVu Sans", "fontSize": 9.5, "color": "#111"}}]},
          {"width": 140, "height": 36, "view": {"fill": "#e4e4e4", "stroke": null}, "data": {"name": "tbl"}, "transform": [{"filter": "datum.c === 'P Score'"}], "encoding": {"y": {"field": "r", "type": "nominal", "axis": null, "scale": {"type": "point", "domain": ["h", "v"], "padding": 0.5, "align": 0.444}}, "text": {"field": "t"}}, "layer": [{"transform": [{"filter": "datum.r === 'h'"}], "mark": {"type": "text", "font": "DejaVu Sans", "fontSize": 9, "fontWeight": "bold", "color": "#333"}}, {"transform": [{"filter": "datum.r === 'v'"}], "mark": {"type": "text", "font": "DejaVu Sans", "fontSize": 9.5, "color": "#111"}}]}
        ]
      },
      {
        "spacing": 0,
        "hconcat": [
          {"width": 253, "height": 20, "view": {"fill": "#f3f3f3", "stroke": "#4d2222", "strokeWidth": 1.5}, "data": {"name": "btn"}, "transform": [{"filter": "datum.b === 'Take to Sequence Gazer'"}], "mark": {"type": "text", "font": "DejaVu Sans", "fontSize": 12, "fontWeight": "bold", "color": "#111"}, "encoding": {"text": {"field": "b"}}},
          {"width": 727, "height": 20, "data": {"values": [{"k": 1}]}, "mark": {"type": "text"}, "encoding": {"text": {"value": ""}}},
          {"width": 62, "height": 20, "view": {"fill": "#f3f3f3", "stroke": "#4d2222", "strokeWidth": 1.5}, "data": {"name": "btn"}, "transform": [{"filter": "datum.b === 'RESID'"}], "mark": {"type": "text", "font": "DejaVu Sans", "fontSize": 12, "fontWeight": "bold", "color": "#111"}, "encoding": {"text": {"field": "b"}}},
          {"width": 4, "height": 20, "data": {"values": [{"k": 1}]}, "mark": {"type": "text"}, "encoding": {"text": {"value": ""}}},
          {"width": 52, "height": 20, "view": {"fill": "#f3f3f3", "stroke": "#4d2222", "strokeWidth": 1.5}, "data": {"name": "btn"}, "transform": [{"filter": "datum.b === 'SEQ'"}], "mark": {"type": "text", "font": "DejaVu Sans", "fontSize": 12, "fontWeight": "bold", "color": "#111"}, "encoding": {"text": {"field": "b"}}}
        ]
      }
    ]
  }
]
}
